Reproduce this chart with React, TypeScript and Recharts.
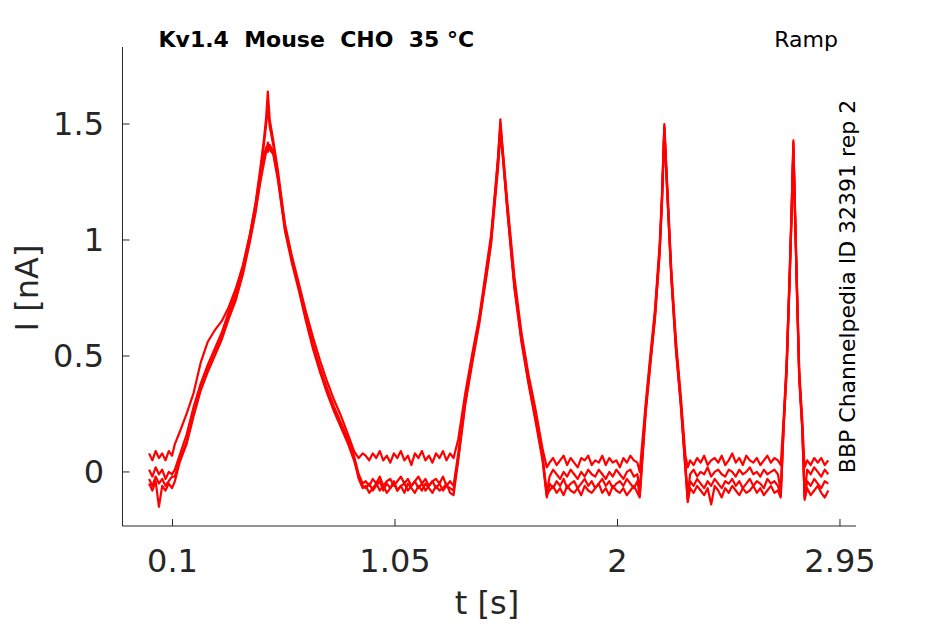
import { LineChart, Line, XAxis, YAxis } from 'recharts';

// time grid [s]: baseline, ramp 1, gap, ramp 2, gap, ramp 3, gap, ramp 4, gap
const T = [
  0, 0.014, 0.028, 0.042, 0.056, 0.07, 0.084, 0.098,
  0.11, 0.13, 0.16, 0.19, 0.22, 0.25, 0.28, 0.31, 0.34, 0.37, 0.4, 0.43, 0.455, 0.475, 0.49, 0.5, 0.507,
  0.515, 0.53, 0.55, 0.58, 0.61, 0.64, 0.67, 0.7, 0.73, 0.76, 0.79, 0.82, 0.85, 0.875, 0.895, 0.912,
  0.925, 0.94, 0.955, 0.97, 0.985, 1.0, 1.015, 1.03, 1.045, 1.06, 1.075, 1.09, 1.105, 1.12, 1.135, 1.15, 1.165, 1.18, 1.195, 1.21, 1.225, 1.24, 1.255, 1.27, 1.285,
  1.3, 1.32, 1.35, 1.38, 1.41, 1.44, 1.46, 1.48, 1.49, 1.5, 1.51, 1.53, 1.56, 1.59, 1.62, 1.65, 1.68, 1.698,
  1.71, 1.725, 1.74, 1.755, 1.77, 1.785, 1.8, 1.815, 1.83, 1.845, 1.86, 1.875, 1.89, 1.905, 1.92, 1.935, 1.95, 1.965, 1.98, 1.995, 2.01, 2.025, 2.04, 2.055, 2.07, 2.085,
  2.095, 2.12, 2.14, 2.16, 2.18, 2.19, 2.2, 2.21, 2.23, 2.25, 2.27, 2.29, 2.3,
  2.31, 2.325, 2.34, 2.355, 2.37, 2.385, 2.4, 2.415, 2.43, 2.445, 2.46, 2.475, 2.49, 2.505, 2.52, 2.535, 2.55, 2.565, 2.58, 2.595, 2.61, 2.625, 2.64, 2.655, 2.67, 2.685,
  2.697, 2.71, 2.722, 2.735, 2.744, 2.751, 2.758, 2.766, 2.776, 2.789, 2.799,
  2.81, 2.825, 2.84, 2.855, 2.87, 2.885, 2.9,
];

// current [nA], one array per sweep, same segments as T
const SWEEP_A = [
  0.08, 0.05, 0.09, 0.06, 0.08, 0.05, 0.09, 0.07,
  0.12, 0.17, 0.25, 0.34, 0.47, 0.56, 0.61, 0.65, 0.71, 0.79, 0.89, 1.02, 1.16, 1.31, 1.43, 1.53, 1.64,
  1.52, 1.43, 1.3, 1.07, 0.93, 0.81, 0.69, 0.58, 0.48, 0.39, 0.31, 0.24, 0.16, 0.09, 0.06, 0.08,
  0.07, 0.05, 0.08, 0.06, 0.09, 0.05, 0.07, 0.04, 0.08, 0.06, 0.09, 0.05, 0.07, 0.03, 0.08, 0.06, 0.09, 0.05, 0.07, 0.04, 0.08, 0.06, 0.09, 0.05, 0.08,
  0.06, 0.14, 0.34, 0.51, 0.67, 0.88, 1.02, 1.24, 1.36, 1.5, 1.39, 1.16, 0.84, 0.6, 0.42, 0.27, 0.1, 0.02,
  0.04, 0.06, 0.03, 0.05, 0.07, 0.03, 0.06, 0.04, 0.02, 0.06, 0.05, 0.07, 0.03, 0.05, 0.04, 0.07, 0.03, 0.06, 0.04, 0.05, 0.02, 0.06, 0.04, 0.07, 0.05, 0.04,
  0.0, 0.29, 0.5, 0.7, 0.98, 1.2, 1.49, 1.29, 0.87, 0.56, 0.33, 0.07, 0.02,
  0.05, 0.03, 0.06, 0.04, 0.07, 0.03, 0.05, 0.06, 0.04, 0.07, 0.03, 0.05, 0.08, 0.04, 0.06, 0.03, 0.07, 0.05, 0.04, 0.06, 0.03, 0.05, 0.07, 0.04, 0.06, 0.05,
  0.03, 0.24, 0.47, 0.86, 1.16, 1.42, 1.14, 0.82, 0.44, 0.22, 0.02,
  0.05, 0.03, 0.06, 0.04, 0.06, 0.03, 0.05,
];

const SWEEP_B = [
  0.01, -0.02, 0.02, -0.01, 0.01, -0.03, 0.0, -0.01,
  0.01, 0.07, 0.16, 0.28, 0.38, 0.46, 0.53, 0.6, 0.69, 0.77, 0.88, 1.02, 1.16, 1.29, 1.41, 1.5, 1.57,
  1.49, 1.41, 1.28, 1.06, 0.92, 0.8, 0.67, 0.55, 0.45, 0.36, 0.28, 0.21, 0.14, 0.07, -0.01, -0.05,
  -0.04, -0.06, -0.03, -0.05, -0.02, -0.06, -0.04, -0.03, -0.06, -0.04, -0.02, -0.05, -0.03, -0.06, -0.04, -0.02, -0.05, -0.03, -0.06, -0.04, -0.03, -0.05, -0.02, -0.06, -0.04,
  -0.06, 0.08, 0.32, 0.49, 0.66, 0.86, 1.0, 1.23, 1.35, 1.52, 1.38, 1.14, 0.81, 0.58, 0.4, 0.24, 0.07, -0.09,
  -0.02, 0.01, -0.01, -0.03, 0.0, -0.02, 0.01, -0.01, -0.03, 0.0, -0.02, 0.01, -0.01, -0.02, 0.01, -0.01, -0.03, 0.0, -0.02, 0.01, -0.01, -0.03, 0.0, 0.01, -0.02, -0.01,
  -0.08, 0.27, 0.48, 0.68, 0.96, 1.18, 1.5, 1.27, 0.85, 0.54, 0.31, 0.03, -0.1,
  -0.01, 0.01, -0.02, 0.0, -0.01, 0.02, -0.02, 0.0, 0.01, -0.01, -0.02, 0.01, 0.0, -0.02, 0.01, -0.01, 0.0, 0.02, -0.01, 0.0, -0.02, 0.01, -0.01, 0.0, 0.01, -0.01,
  -0.08, 0.22, 0.45, 0.84, 1.15, 1.43, 1.12, 0.8, 0.42, 0.2, -0.1,
  0.01, -0.01, 0.02, 0.0, -0.02, 0.01, -0.01,
];

const SWEEP_C = [
  -0.03, -0.06, -0.02, -0.05, -0.03, -0.06, -0.04, -0.02,
  -0.02, 0.05, 0.13, 0.25, 0.36, 0.44, 0.51, 0.58, 0.67, 0.75, 0.86, 1.0, 1.13, 1.25, 1.33, 1.38, 1.42,
  1.39, 1.37, 1.26, 1.04, 0.9, 0.78, 0.65, 0.53, 0.43, 0.34, 0.26, 0.19, 0.12, 0.05, -0.02, -0.06,
  -0.07, -0.05, -0.08, -0.06, -0.04, -0.08, -0.05, -0.07, -0.04, -0.08, -0.06, -0.05, -0.08, -0.06, -0.04, -0.07, -0.05, -0.08, -0.06, -0.04, -0.07, -0.05, -0.08, -0.06, -0.07,
  -0.08, 0.06, 0.3, 0.48, 0.65, 0.84, 0.98, 1.2, 1.31, 1.46, 1.36, 1.12, 0.79, 0.56, 0.38, 0.22, 0.05, -0.11,
  -0.05, -0.07, -0.04, -0.06, -0.03, -0.07, -0.05, -0.04, -0.07, -0.05, -0.03, -0.06, -0.04, -0.07, -0.05, -0.03, -0.06, -0.04, -0.07, -0.05, -0.04, -0.06, -0.03, -0.05, -0.07, -0.04,
  -0.1, 0.25, 0.46, 0.66, 0.94, 1.16, 1.46, 1.25, 0.83, 0.52, 0.29, 0.01, -0.12,
  -0.04, -0.06, -0.03, -0.05, -0.07, -0.04, -0.06, -0.03, -0.05, -0.07, -0.04, -0.05, -0.03, -0.06, -0.04, -0.07, -0.05, -0.03, -0.06, -0.04, -0.05, -0.07, -0.03, -0.05, -0.04, -0.06,
  -0.1, 0.2, 0.43, 0.82, 1.12, 1.38, 1.1, 0.78, 0.4, 0.18, -0.11,
  -0.04, -0.06, -0.03, -0.05, -0.07, -0.04, -0.05,
];

const SWEEP_D = [
  -0.05, -0.08, -0.04, -0.15, -0.06, -0.08, -0.05, -0.07,
  -0.04, 0.04, 0.12, 0.24, 0.35, 0.43, 0.5, 0.57, 0.66, 0.74, 0.85, 0.99, 1.12, 1.26, 1.36, 1.4, 1.38,
  1.41, 1.38, 1.27, 1.05, 0.91, 0.79, 0.66, 0.54, 0.44, 0.35, 0.27, 0.2, 0.13, 0.06, -0.03, -0.07,
  -0.06, -0.09, -0.07, -0.05, -0.08, -0.06, -0.09, -0.07, -0.05, -0.08, -0.06, -0.09, -0.05, -0.07, -0.09, -0.06, -0.08, -0.05, -0.07, -0.09, -0.06, -0.08, -0.07, -0.05, -0.09,
  -0.1, 0.05, 0.29, 0.47, 0.64, 0.85, 0.99, 1.22, 1.33, 1.48, 1.37, 1.13, 0.8, 0.57, 0.39, 0.23, 0.06, -0.1,
  -0.08, -0.06, -0.09, -0.07, -0.1, -0.06, -0.08, -0.09, -0.07, -0.1, -0.06, -0.08, -0.09, -0.07, -0.05, -0.09, -0.07, -0.1, -0.06, -0.08, -0.09, -0.07, -0.1, -0.08, -0.06, -0.09,
  -0.11, 0.26, 0.47, 0.67, 0.95, 1.17, 1.48, 1.26, 0.84, 0.53, 0.3, 0.02, -0.13,
  -0.07, -0.09, -0.06, -0.08, -0.1, -0.07, -0.14, -0.06, -0.08, -0.11, -0.07, -0.09, -0.06, -0.08, -0.1, -0.07, -0.09, -0.08, -0.06, -0.09, -0.07, -0.1, -0.08, -0.06, -0.09, -0.08,
  -0.11, 0.21, 0.44, 0.83, 1.13, 1.4, 1.11, 0.79, 0.41, 0.19, -0.12,
  -0.07, -0.1, -0.08, -0.06, -0.09, -0.11, -0.08,
];

const X_TICKS = [0.1, 1.05, 2, 2.95];
const Y_TICKS = [0, 0.5, 1, 1.5];
const SERIES = ['a', 'b', 'c', 'd'];

const rows = T.map((t, i) => ({
  t,
  a: SWEEP_A[i],
  b: SWEEP_B[i],
  c: SWEEP_C[i],
  d: SWEEP_D[i],
}));

const FONT = 'DejaVu Sans';
const AXIS = '#262626';

export default function App() {
  return (
    <div style={{ position: 'absolute', left: 0, top: 0, width: 945, height: 624, background: '#fff', fontFamily: FONT }}>
      <LineChart width={945} height={624} data={rows} margin={{ top: 47, right: 89, bottom: 58, left: 62.5 }}>
        <XAxis
          dataKey="t" type="number" domain={[-0.1135, 3.0184]} allowDataOverflow
          ticks={X_TICKS} interval={0} tickFormatter={(v) => String(v)}
          height={40} tickSize={-7} tickMargin={30}
          stroke={AXIS} tick={{ fill: AXIS, fontSize: 32, fontFamily: FONT }}
        />
        <YAxis
          type="number" domain={[-0.233, 1.832]} allowDataOverflow
          ticks={Y_TICKS} interval={0} tickFormatter={(v) => String(v)}
          width={60} tickSize={-7} tickMargin={25.5}
          stroke={AXIS} tick={{ fill: AXIS, fontSize: 32, fontFamily: FONT }}
        />
        {SERIES.map((k) => (
          <Line key={k} type="linear" dataKey={k} stroke="#ff0000" strokeWidth={2.2}
            strokeLinejoin="round" dot={false} activeDot={false} isAnimationActive={false} />
        ))}
      </LineChart>
      <svg width={945} height={624} style={{ position: 'absolute', left: 0, top: 0, pointerEvents: 'none' }}>
        <text x={158.5} y={47} fontSize={22} fontWeight="bold" fontFamily={FONT} fill="#000" style={{ whiteSpace: 'pre' }}>
          {'Kv1.4  Mouse  CHO  35 °C'}
        </text>
        <text x={838} y={47} fontSize={22} fontFamily={FONT} fill="#000" textAnchor="end">Ramp</text>
        <text x={487} y={614} fontSize={32} fontFamily={FONT} fill={AXIS} textAnchor="middle">t [s]</text>
        <text transform="translate(37.5,288) rotate(-90)" fontSize={32} fontFamily={FONT} fill={AXIS} textAnchor="middle">I [nA]</text>
        <text transform="translate(855,286.5) rotate(-90)" fontSize={22} fontFamily={FONT} fill="#000" textAnchor="middle">
          BBP Channelpedia ID 32391 rep 2
        </text>
      </svg>
    </div>
  );
}
